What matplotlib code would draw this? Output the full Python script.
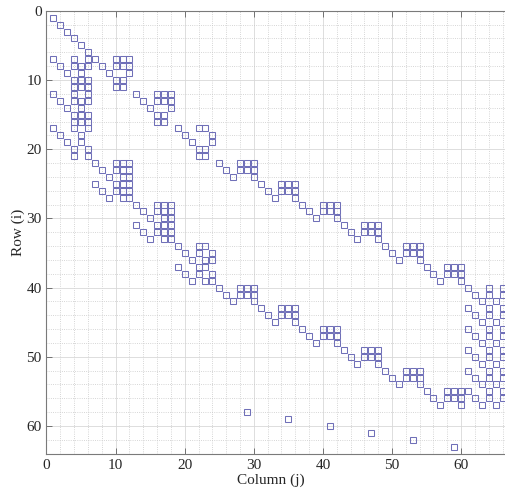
import numpy as np
import matplotlib.pyplot as plt
from matplotlib.ticker import MultipleLocator

# nonzero columns for each row (1-based)
rows_1_21 = [
    [1], [2], [3], [4], [5], [6],
    [1, 4, 6, 7, 10, 11, 12],
    [2, 4, 5, 6, 8, 10, 11, 12],
    [3, 5, 9, 12],
    [4, 5, 6, 10, 11],
    [4, 5, 6, 10, 11],
    [1, 4, 6, 13, 16, 17, 18],
    [2, 4, 5, 6, 14, 16, 17, 18],
    [3, 5, 15, 18],
    [4, 5, 6, 16, 17],
    [4, 5, 6, 16, 17],
    [1, 4, 6, 19, 22, 23],
    [2, 5, 20, 24],
    [3, 5, 21, 24],
    [4, 6, 22, 23],
    [4, 6, 22, 23],
]
rows_22_39 = [
    [7, 10, 11, 12, 25, 28, 29, 30],
    [8, 10, 11, 12, 26, 28, 29, 30],
    [9, 11, 12, 27, 30],
    [7, 10, 11, 12, 31, 34, 35, 36],
    [8, 10, 11, 12, 32, 34, 35, 36],
    [9, 11, 12, 33, 36],
    [13, 16, 17, 18, 37, 40, 41, 42],
    [14, 16, 17, 18, 38, 40, 41, 42],
    [15, 17, 18, 39, 42],
    [13, 16, 17, 18, 43, 46, 47, 48],
    [14, 16, 17, 18, 44, 46, 47, 48],
    [15, 17, 18, 45, 48],
    [19, 22, 23, 49, 52, 53, 54],
    [20, 22, 24, 50, 52, 53, 54],
    [21, 23, 24, 51, 54],
    [19, 22, 23, 55, 58, 59, 60],
    [20, 22, 24, 56, 58, 59, 60],
    [21, 23, 24, 57, 60],
]
rows_40_57 = [
    [25, 28, 29, 30, 61, 64, 66],
    [26, 28, 29, 30, 62, 64, 66],
    [27, 30, 63, 65],
    [31, 34, 35, 36, 61, 64, 66],
    [32, 34, 35, 36, 62, 64, 66],
    [33, 36, 63, 65],
    [37, 40, 41, 42, 61, 64, 66],
    [38, 40, 41, 42, 62, 64, 66],
    [39, 42, 63, 65],
    [43, 46, 47, 48, 61, 64, 66],
    [44, 46, 47, 48, 62, 64, 66],
    [45, 48, 63, 65],
    [49, 52, 53, 54, 61, 64, 66],
    [50, 52, 53, 54, 62, 64, 66],
    [51, 54, 63, 65],
    [55, 58, 59, 60, 61, 64, 66],
    [56, 58, 59, 60, 62, 64, 66],
    [57, 60, 63, 65],
]
rows_58_63 = [[29], [35], [41], [47], [53], [59]]

all_rows = rows_1_21 + rows_22_39 + rows_40_57 + rows_58_63
ii, jj = [], []
for r, cols in enumerate(all_rows, start=1):
    for c in cols:
        ii.append(r)
        jj.append(c)

plt.rcParams['font.family'] = ['Liberation Serif', 'DejaVu Serif']

W, H = 506, 493
fig = plt.figure(figsize=(W / 100, H / 100), dpi=100)
ax = fig.add_axes([46.5 / W, 1 - 453.7 / H, 1 - 46.5 / W, (453.7 - 10.8) / H])

ax.plot(jj, ii, 's', ms=3.7, mfc='none', mec='#7070b8', mew=0.75)

ax.set_xlim(0, 66.5)
ax.set_ylim(64, 0)
ax.xaxis.set_major_locator(MultipleLocator(10))
ax.yaxis.set_major_locator(MultipleLocator(10))
ax.xaxis.set_minor_locator(MultipleLocator(2))
ax.yaxis.set_minor_locator(MultipleLocator(2))

ax.grid(True, which='major', color='#d8d8d8', linestyle='-', linewidth=0.6)
ax.grid(True, which='minor', color='#c8c8c8', linestyle=':', linewidth=0.6)
ax.set_axisbelow(True)

ax.tick_params(which='major', direction='in', length=4, width=0.6, color='#606060',
               top=True, labelsize=11, pad=3.5, labelcolor='#262626')
ax.tick_params(which='minor', length=0)
for side in ['left', 'bottom', 'top']:
    ax.spines[side].set_color('#7a7a7a')
    ax.spines[side].set_linewidth(0.8)
ax.spines['right'].set_visible(False)

ax.set_xlabel('Column (j)', fontsize=11, color='#262626')
ax.xaxis.set_label_coords((271 - 46.5) / (W - 46.5), -0.045)
ax.set_ylabel('Row (i)', fontsize=11, color='#262626')
ax.yaxis.set_label_coords(-0.047, 0.5)

fig.savefig('out.png', dpi=100)
